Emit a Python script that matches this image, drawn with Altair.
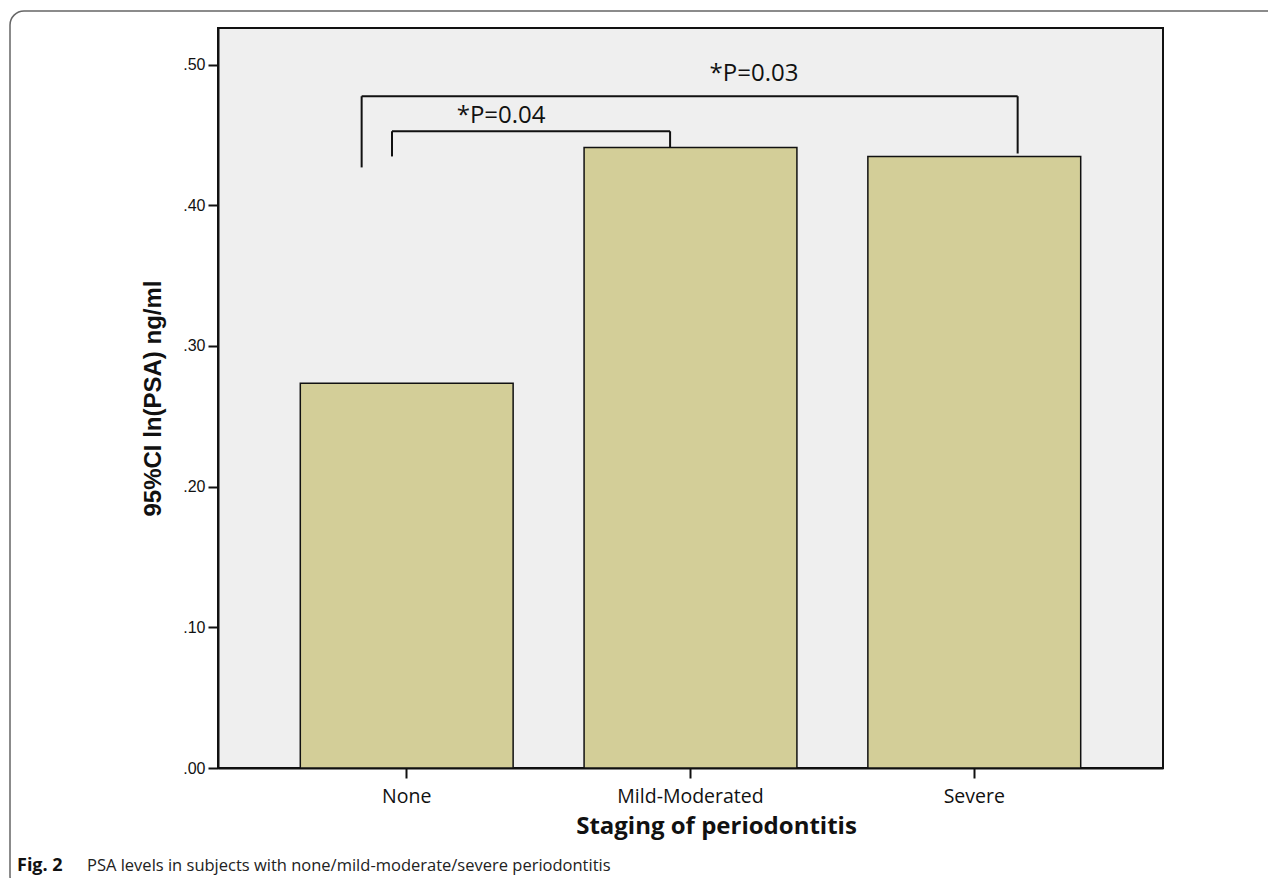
import altair as alt
import pandas as pd

# ---- data ----
categories = ["None", "Mild-Moderated", "Severe"]
values = [0.2734, 0.4411, 0.4347]

# bracket segments (x in category units: None=0, Mild=1, Severe=2)
seg_x = [-0.160, -0.160, 2.154, -0.053, -0.053, 0.928]
seg_x2 = [-0.160, 2.154, 2.154, -0.053, 0.928, 0.928]
seg_y = [0.4269, 0.4775, 0.4775, 0.4347, 0.4526, 0.4526]
seg_y2 = [0.4775, 0.4775, 0.4368, 0.4526, 0.4526, 0.4413]

label_texts = ["*P=0.04", "*P=0.03"]
label_x = [0.332, 1.224]
label_y = [0.4631, 0.4936]

caption_bold = "Fig. 2"
caption_text = "PSA levels in subjects with none/mild-moderate/severe periodontitis"

W, H = 945, 740

bars_df = pd.DataFrame({"stage": categories, "value": values})
seg_df = pd.DataFrame({"x": seg_x, "x2": seg_x2, "y": seg_y, "y2": seg_y2})
lab_df = pd.DataFrame({"t": label_texts, "x": label_x, "y": label_y})
one = pd.DataFrame({"a": [0]})

yscale = alt.Scale(domain=[0, 0.526], nice=False, zero=True)
ann_x = alt.Scale(domain=[-2 / 3, 8 / 3], nice=False, zero=False)

bars = alt.Chart(bars_df).mark_bar(
    fill="#d3ce98", stroke="#111111", strokeWidth=1.5
).encode(
    x=alt.X(
        "stage:N",
        sort=categories,
        scale=alt.Scale(paddingInner=0.25, paddingOuter=0.29),
        axis=alt.Axis(
            title="Staging of periodontitis",
            labelAngle=0,
            labelFont="Open Sans",
            labelFontSize=19.5,
            labelColor="#111111",
            labelPadding=9,
            tickSize=10,
            tickWidth=2,
            tickColor="#111111",
            domainColor="#111111",
            domainWidth=2,
            titleFont="Open Sans",
            titleFontSize=24,
            titleFontWeight="bold",
            titleColor="#111111",
            titlePadding=9,
            titleX=498,
        ),
    ),
    y=alt.Y(
        "value:Q",
        scale=yscale,
        axis=alt.Axis(
            title="95%CI ln(PSA) ng/ml",
            values=[0, 0.1, 0.2, 0.3, 0.4, 0.5],
            labelExpr="'.' + substring(format(datum.value, '.2f'), 2)",
            labelFont="Liberation Sans",
            labelFontSize=16,
            labelColor="#111111",
            labelPadding=3,
            tickSize=10,
            tickWidth=2,
            tickColor="#111111",
            domainColor="#111111",
            domainWidth=2,
            grid=False,
            titleFont="Liberation Sans",
            titleFontSize=24,
            titleFontWeight="bold",
            titleColor="#111111",
            titlePadding=17,
        ),
    ),
)

rules = alt.Chart(seg_df).mark_rule(color="#111111", strokeWidth=2).encode(
    x=alt.X("x:Q", scale=ann_x, axis=None),
    x2="x2:Q",
    y=alt.Y("y:Q", scale=yscale),
    y2="y2:Q",
)

texts = alt.Chart(lab_df).mark_text(
    font="Open Sans", fontSize=24, color="#111111", baseline="middle", align="center"
).encode(
    x=alt.X("x:Q", scale=ann_x, axis=None),
    y=alt.Y("y:Q", scale=yscale),
    text="t:N",
)

annot = alt.layer(rules, texts)

frame = alt.Chart(one).mark_rect(
    fill="transparent", stroke="#666666", strokeWidth=1.5, cornerRadius=14
).encode(
    x=alt.value(-208), x2=alt.value(1200), y=alt.value(-17), y2=alt.value(862)
)

cap1 = alt.Chart(one).mark_text(
    font="Open Sans", fontSize=18, fontWeight="bold", color="#111111",
    align="left", baseline="middle"
).encode(x=alt.value(-201), y=alt.value(838), text=alt.value(caption_bold))

cap2 = alt.Chart(one).mark_text(
    font="Open Sans", fontSize=16.5, color="#222222",
    align="left", baseline="middle"
).encode(x=alt.value(-131), y=alt.value(838), text=alt.value(caption_text))

chart = alt.layer(bars, annot, frame, cap1, cap2).resolve_scale(
    x="independent"
).properties(
    width=W,
    height=H,
    background="white",
    autosize=alt.AutoSizeParams(type="none"),
    padding={"left": 210, "top": 20, "right": 105, "bottom": 110},
).configure_view(
    fill="#efefef", stroke="#111111", strokeWidth=2
)

chart.save("out.html", embed_options={"renderer": "svg", "actions": False})
